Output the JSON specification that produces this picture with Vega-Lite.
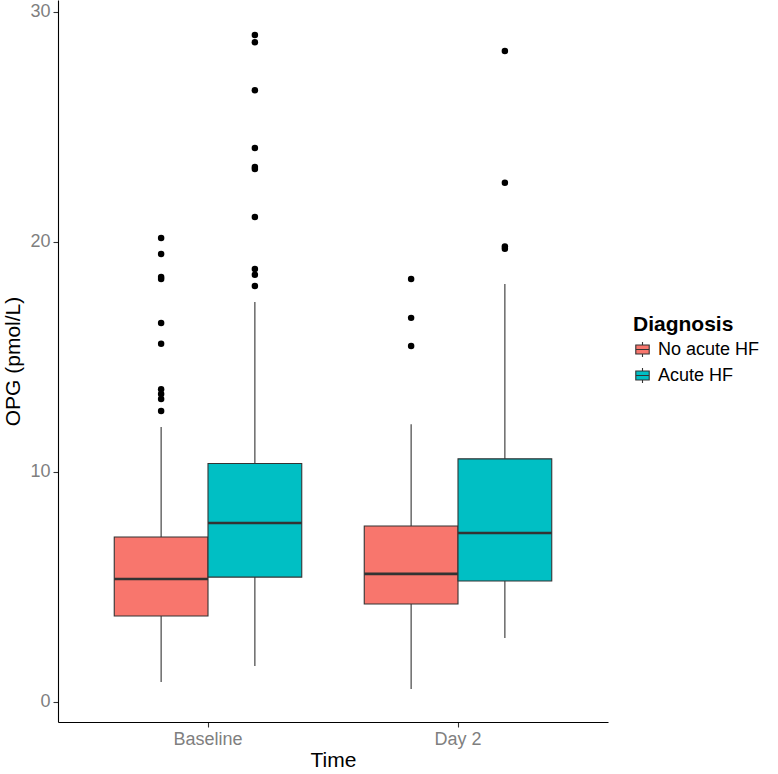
{
  "$schema": "https://vega.github.io/schema/vega-lite/v6.json",
  "width": 550,
  "height": 722,
  "autosize": {"type": "none"},
  "padding": {"left": 58, "top": 0, "right": 170, "bottom": 52},
  "background": "white",
  "config": {
    "view": {"stroke": null},
    "font": "Liberation Sans",
    "axis": {
      "grid": false,
      "domainColor": "black",
      "domainWidth": 1.1,
      "tickColor": "#333333",
      "tickWidth": 1.1,
      "tickSize": 5,
      "labelColor": "#7f7f7f",
      "labelFontSize": 18,
      "labelPadding": 3,
      "titleFontSize": 21,
      "titleFontWeight": "normal",
      "titleColor": "black"
    }
  },
  "datasets": {
    "boxes": [
      {"Time": "Baseline", "Diagnosis": "No acute HF", "lower": 0.87, "q1": 3.74, "median": 5.35, "q3": 7.17, "upper": 11.96},
      {"Time": "Baseline", "Diagnosis": "Acute HF", "lower": 1.57, "q1": 5.43, "median": 7.78, "q3": 10.37, "upper": 17.39},
      {"Time": "Day 2", "Diagnosis": "No acute HF", "lower": 0.57, "q1": 4.26, "median": 5.57, "q3": 7.65, "upper": 12.08},
      {"Time": "Day 2", "Diagnosis": "Acute HF", "lower": 2.78, "q1": 5.26, "median": 7.35, "q3": 10.57, "upper": 18.17}
    ],
    "outliers": [
      {"Time": "Baseline", "Diagnosis": "No acute HF", "value": 20.17},
      {"Time": "Baseline", "Diagnosis": "No acute HF", "value": 19.48},
      {"Time": "Baseline", "Diagnosis": "No acute HF", "value": 18.48},
      {"Time": "Baseline", "Diagnosis": "No acute HF", "value": 18.39},
      {"Time": "Baseline", "Diagnosis": "No acute HF", "value": 16.48},
      {"Time": "Baseline", "Diagnosis": "No acute HF", "value": 15.57},
      {"Time": "Baseline", "Diagnosis": "No acute HF", "value": 13.6},
      {"Time": "Baseline", "Diagnosis": "No acute HF", "value": 13.39},
      {"Time": "Baseline", "Diagnosis": "No acute HF", "value": 13.17},
      {"Time": "Baseline", "Diagnosis": "No acute HF", "value": 12.65},
      {"Time": "Baseline", "Diagnosis": "Acute HF", "value": 29.0},
      {"Time": "Baseline", "Diagnosis": "Acute HF", "value": 28.68},
      {"Time": "Baseline", "Diagnosis": "Acute HF", "value": 26.6},
      {"Time": "Baseline", "Diagnosis": "Acute HF", "value": 24.09},
      {"Time": "Baseline", "Diagnosis": "Acute HF", "value": 23.26},
      {"Time": "Baseline", "Diagnosis": "Acute HF", "value": 23.17},
      {"Time": "Baseline", "Diagnosis": "Acute HF", "value": 21.09},
      {"Time": "Baseline", "Diagnosis": "Acute HF", "value": 18.83},
      {"Time": "Baseline", "Diagnosis": "Acute HF", "value": 18.57},
      {"Time": "Baseline", "Diagnosis": "Acute HF", "value": 18.09},
      {"Time": "Day 2", "Diagnosis": "No acute HF", "value": 18.39},
      {"Time": "Day 2", "Diagnosis": "No acute HF", "value": 16.7},
      {"Time": "Day 2", "Diagnosis": "No acute HF", "value": 15.48},
      {"Time": "Day 2", "Diagnosis": "Acute HF", "value": 28.3},
      {"Time": "Day 2", "Diagnosis": "Acute HF", "value": 22.57},
      {"Time": "Day 2", "Diagnosis": "Acute HF", "value": 19.8},
      {"Time": "Day 2", "Diagnosis": "Acute HF", "value": 19.7}
    ]
  },
  "encoding": {
    "x": {
      "field": "Time",
      "type": "nominal",
      "sort": ["Baseline", "Day 2"],
      "scale": {"paddingInner": 0.25, "paddingOuter": 0.225},
      "axis": {"title": "Time", "labelAngle": 0, "titlePadding": 1}
    },
    "xOffset": {
      "field": "Diagnosis",
      "type": "nominal",
      "sort": ["No acute HF", "Acute HF"],
      "scale": {"paddingInner": 0, "paddingOuter": 0}
    }
  },
  "layer": [
    {
      "data": {"name": "boxes"},
      "mark": {"type": "rule", "color": "#333333", "strokeWidth": 1.1},
      "encoding": {
        "y": {
          "field": "lower",
          "type": "quantitative",
          "scale": {"domain": [-0.87, 30.52], "nice": false, "zero": false},
          "axis": {"title": "OPG (pmol/L)", "values": [0, 10, 20, 30], "titlePadding": 6}
        },
        "y2": {"field": "upper"}
      }
    },
    {
      "data": {"name": "boxes"},
      "mark": {"type": "bar", "stroke": "#333333", "strokeWidth": 1.1},
      "encoding": {
        "y": {"field": "q1", "type": "quantitative"},
        "y2": {"field": "q3"},
        "fill": {
          "field": "Diagnosis",
          "type": "nominal",
          "sort": ["No acute HF", "Acute HF"],
          "scale": {"domain": ["No acute HF", "Acute HF"], "range": ["#F8766D", "#00BFC4"]},
          "legend": {
            "title": "Diagnosis",
            "orient": "none",
            "legendX": 575,
            "legendY": 314,
            "titleFontSize": 21,
            "titleFontWeight": "bold",
            "titleColor": "black",
            "titlePadding": 5,
            "labelFontSize": 18,
            "labelColor": "black",
            "labelOffset": 6,
            "symbolType": "M-0.75,-0.5H0.75V0.5H-0.75Z M-0.75,0H0.75 M0,-0.5V-0.85 M0,0.5V0.85",
            "symbolSize": 320,
            "symbolStrokeColor": "#333333",
            "symbolStrokeWidth": 1.1,
            "symbolOpacity": 1,
            "rowPadding": 5
          }
        }
      }
    },
    {
      "data": {"name": "boxes"},
      "mark": {"type": "bar", "stroke": "#333333", "strokeWidth": 2.6, "fill": null},
      "encoding": {
        "y": {"field": "median", "type": "quantitative"},
        "y2": {"field": "median"}
      }
    },
    {
      "data": {"name": "outliers"},
      "mark": {"type": "point", "filled": true, "color": "black", "size": 42, "opacity": 1},
      "encoding": {
        "y": {"field": "value", "type": "quantitative"}
      }
    }
  ]
}
